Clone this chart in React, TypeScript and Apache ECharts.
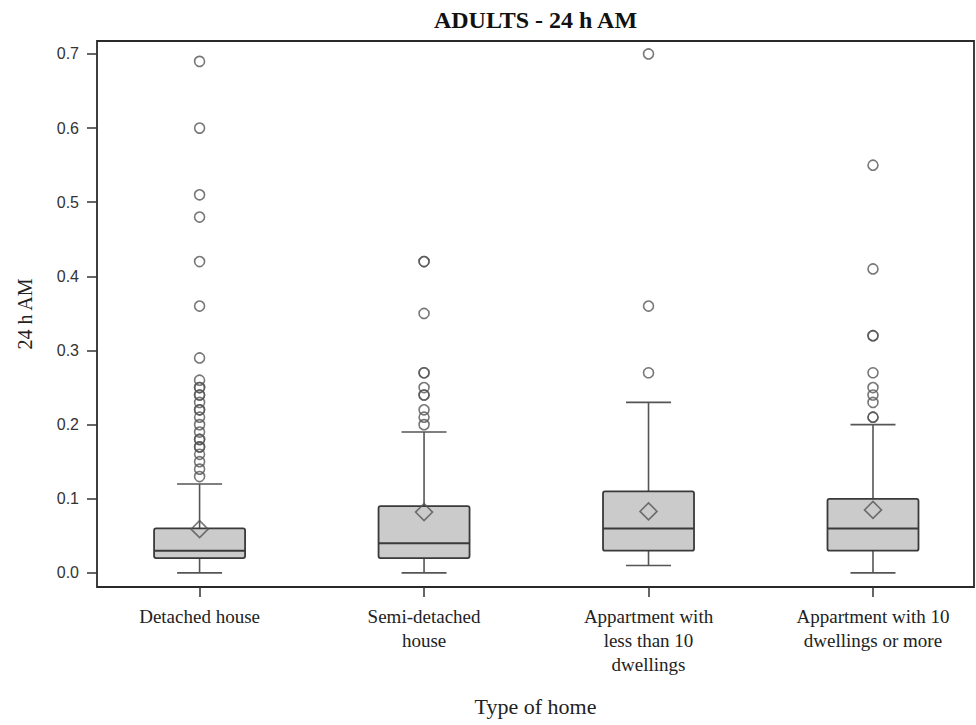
import React, { useEffect, useRef } from "react";
import * as echarts from "echarts";

// Home types on the x axis
const categories = [
  "Detached house",
  "Semi-detached\nhouse",
  "Appartment with\nless than 10\ndwellings",
  "Appartment with 10\ndwellings or more",
];

// Five-number summaries per home type
const whiskerLow = [0, 0, 0.01, 0];
const q1 = [0.02, 0.02, 0.03, 0.03];
const median = [0.03, 0.04, 0.06, 0.06];
const q3 = [0.06, 0.09, 0.11, 0.1];
const whiskerHigh = [0.12, 0.19, 0.23, 0.2];
const means = [0.059, 0.082, 0.083, 0.085];

// Outlying observations per home type
const outliersDetached = [
  0.69, 0.6, 0.51, 0.48, 0.42, 0.36, 0.29, 0.26, 0.25, 0.25, 0.24, 0.24, 0.23,
  0.22, 0.22, 0.21, 0.2, 0.19, 0.18, 0.18, 0.17, 0.17, 0.16, 0.15, 0.14, 0.13,
];
const outliersSemi = [0.42, 0.42, 0.35, 0.27, 0.27, 0.25, 0.24, 0.24, 0.22, 0.21, 0.2];
const outliersApptSmall = [0.7, 0.36, 0.27];
const outliersApptLarge = [0.55, 0.41, 0.32, 0.32, 0.27, 0.25, 0.24, 0.23, 0.21, 0.21];
const outliers = [outliersDetached, outliersSemi, outliersApptSmall, outliersApptLarge];

const yTicks = [0, 0.1, 0.2, 0.3, 0.4, 0.5, 0.6, 0.7];

const BOX_W = 91;
const CAP_W = 45;
const SERIF = "'Liberation Serif', 'Times New Roman', serif";

export default function App() {
  const ref = useRef<HTMLDivElement>(null);

  useEffect(() => {
    if (!ref.current) return;
    const chart = echarts.init(ref.current, null, { renderer: "svg" });

    const boxData = categories.map((_, i) => [
      i,
      whiskerLow[i],
      q1[i],
      median[i],
      q3[i],
      whiskerHigh[i],
    ]);
    const outlierData: number[][] = [];
    outliers.forEach((list, i) => list.forEach((v) => outlierData.push([i, v])));
    const meanData = means.map((m, i) => [i, m]);

    const boxStroke = "#3a3a3a";
    const lineColor = "#555";

    chart.setOption({
      animation: false,
      backgroundColor: "#fff",
      graphic: [
        {
          type: "text",
          x: 535.5,
          y: 20,
          style: {
            text: "ADULTS - 24 h AM",
            textAlign: "center",
            textVerticalAlign: "middle",
            font: `bold 24px ${SERIF}`,
            fill: "#111",
          },
        },
      ],
      grid: {
        left: 97,
        right: 2,
        top: 41,
        bottom: 138,
        show: true,
        borderColor: "#2a2a2a",
        borderWidth: 1.8,
        backgroundColor: "transparent",
      },
      xAxis: {
        type: "value",
        min: -0.457,
        max: 3.45,
        name: "Type of home",
        nameLocation: "middle",
        nameGap: 108,
        nameTextStyle: { fontFamily: SERIF, fontSize: 22, color: "#222" },
        axisLine: { show: false, onZero: false },
        splitLine: { show: false },
        axisTick: {
          show: true,
          length: 10,
          customValues: [0, 1, 2, 3],
          lineStyle: { color: "#333", width: 1.5 },
        },
        axisLabel: {
          customValues: [0, 1, 2, 3],
          margin: 17,
          fontFamily: SERIF,
          fontSize: 19,
          lineHeight: 24,
          color: "#222",
          formatter: (v: number) => categories[Math.round(v)] ?? "",
        },
      },
      yAxis: {
        type: "value",
        min: -0.019,
        max: 0.7175,
        name: "24 h AM",
        nameLocation: "middle",
        nameRotate: 90,
        nameGap: 62,
        nameTextStyle: { fontFamily: SERIF, fontSize: 20, color: "#222" },
        axisLine: { show: false, onZero: false },
        splitLine: { show: false },
        axisTick: {
          show: true,
          length: 10,
          customValues: yTicks,
          lineStyle: { color: "#333", width: 1.5 },
        },
        axisLabel: {
          customValues: yTicks,
          margin: 18,
          fontFamily: "'Liberation Sans', Arial, sans-serif",
          fontSize: 16,
          color: "#333",
          formatter: (v: number) => v.toFixed(1),
        },
      },
      series: [
        {
          type: "custom",
          data: boxData,
          encode: { x: 0, y: [1, 2, 3, 4, 5] },
          renderItem: (params: any, api: any) => {
            const i = api.value(0);
            const pLow = api.coord([i, api.value(1)]);
            const pQ1 = api.coord([i, api.value(2)]);
            const pMed = api.coord([i, api.value(3)]);
            const pQ3 = api.coord([i, api.value(4)]);
            const pHigh = api.coord([i, api.value(5)]);
            const cx = pMed[0];
            const wl = { stroke: lineColor, lineWidth: 1.6 };
            return {
              type: "group",
              children: [
                { type: "line", shape: { x1: cx, y1: pLow[1], x2: cx, y2: pQ1[1] }, style: wl },
                { type: "line", shape: { x1: cx, y1: pQ3[1], x2: cx, y2: pHigh[1] }, style: wl },
                {
                  type: "line",
                  shape: { x1: cx - CAP_W / 2, y1: pLow[1], x2: cx + CAP_W / 2, y2: pLow[1] },
                  style: wl,
                },
                {
                  type: "line",
                  shape: { x1: cx - CAP_W / 2, y1: pHigh[1], x2: cx + CAP_W / 2, y2: pHigh[1] },
                  style: wl,
                },
                {
                  type: "rect",
                  shape: {
                    x: cx - BOX_W / 2,
                    y: pQ3[1],
                    width: BOX_W,
                    height: pQ1[1] - pQ3[1],
                    r: 2,
                  },
                  style: { fill: "#cbcbcb", stroke: boxStroke, lineWidth: 1.8 },
                },
                {
                  type: "line",
                  shape: { x1: cx - BOX_W / 2, y1: pMed[1], x2: cx + BOX_W / 2, y2: pMed[1] },
                  style: { stroke: boxStroke, lineWidth: 2 },
                },
              ],
            };
          },
          z: 2,
        },
        {
          type: "scatter",
          data: outlierData,
          symbol: "circle",
          symbolSize: 10,
          itemStyle: { color: "rgba(255,255,255,0)", borderColor: "#555", borderWidth: 1.6 },
          z: 3,
        },
        {
          type: "scatter",
          data: meanData,
          symbol: "diamond",
          symbolSize: [17, 17],
          itemStyle: { color: "rgba(0,0,0,0)", borderColor: "#555", borderWidth: 1.6 },
          z: 4,
        },
      ],
    });

    return () => chart.dispose();
  }, []);

  return (
    <div
      ref={ref}
      style={{ position: "absolute", left: 0, top: 0, width: 976, height: 725, background: "#fff" }}
    />
  );
}
